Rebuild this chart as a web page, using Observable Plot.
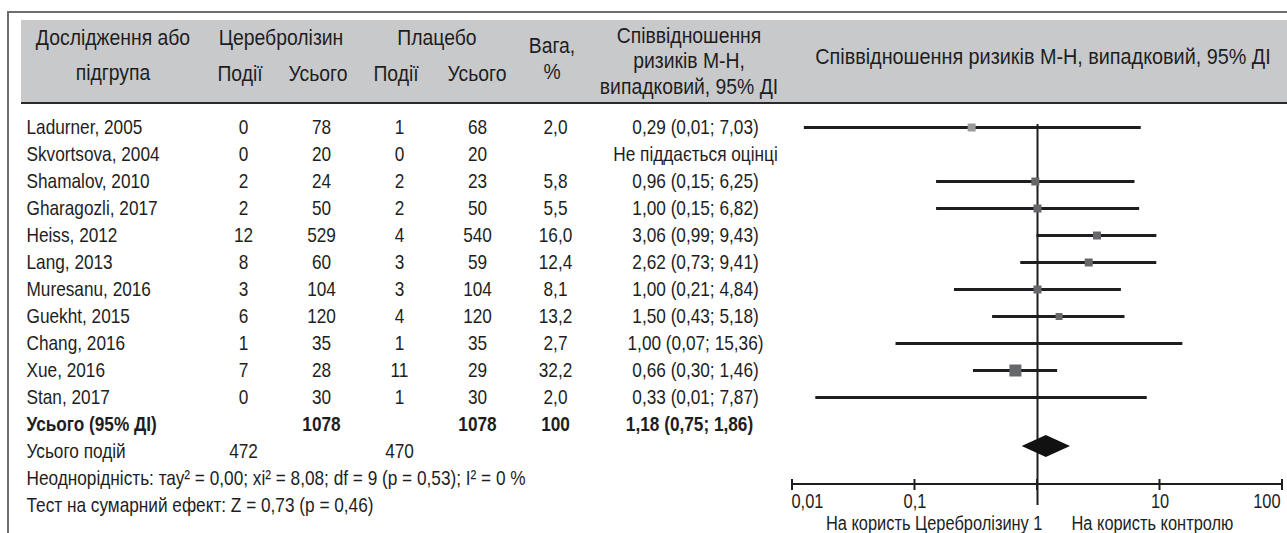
<!DOCTYPE html>
<html><head><meta charset="utf-8">
<script src="https://cdn.jsdelivr.net/npm/d3@7"></script>
<script src="https://cdn.jsdelivr.net/npm/@observablehq/plot@0.6"></script>
<style>
body{margin:0;background:#fff;}
#wrap{position:relative;width:1287px;height:533px;overflow:hidden;font-family:"Liberation Sans",Arial,sans-serif;color:#1e1e1e;}
#frameTop{position:absolute;left:7px;top:11px;width:1280px;height:2px;background:#6e6e6e}
#frameLeft{position:absolute;left:7px;top:11px;width:2px;height:522px;background:#6e6e6e}
#band{position:absolute;left:21px;top:20px;width:1266px;height:82px;background:#c8c9cb;border-bottom:2px solid #2a2a2a}
.h{position:absolute;transform:translate(-50%,-50%) scaleX(0.88);font-size:22px;white-space:nowrap;line-height:1}
.h.wide{transform:translate(-50%,-50%) scaleX(0.9)}
.p{position:absolute;top:103px}
</style></head>
<body>
<div id="wrap">
  <div id="frameTop"></div><div id="frameLeft"></div><div id="band"></div>
  <div id="hdr"></div>
  <div class="p" id="pA" style="left:0"></div>
  <div class="p" id="pB" style="left:200px"></div>
  <div class="p" id="pC" style="left:600px"></div>
  <div class="p" id="pD" style="left:790px"></div>
</div>
<script>
// ---------- data ----------
const studies = ["Ladurner, 2005","Skvortsova, 2004","Shamalov, 2010","Gharagozli, 2017","Heiss, 2012","Lang, 2013","Muresanu, 2016","Guekht, 2015","Chang, 2016","Xue, 2016","Stan, 2017"];
const cereEvents = [0,0,2,2,12,8,3,6,1,7,0];
const cereTotal  = [78,20,24,50,529,60,104,120,35,28,30];
const placEvents = [1,0,2,2,4,3,3,4,1,11,1];
const placTotal  = [68,20,23,50,540,59,104,120,35,29,30];
const weights    = ["2,0","","5,8","5,5","16,0","12,4","8,1","13,2","2,7","32,2","2,0"];
const rrLabels   = ["0,29 (0,01; 7,03)","Не піддається оцінці","0,96 (0,15; 6,25)","1,00 (0,15; 6,82)","3,06 (0,99; 9,43)","2,62 (0,73; 9,41)","1,00 (0,21; 4,84)","1,50 (0,43; 5,18)","1,00 (0,07; 15,36)","0,66 (0,30; 1,46)","0,33 (0,01; 7,87)"];
const rrEst  = [0.29,null,0.96,1.00,3.06,2.62,1.00,1.50,1.00,0.66,0.33];
const rrLow  = [0.0125,null,0.15,0.15,0.99,0.73,0.21,0.43,0.07,0.30,0.0155];
const rrHigh = [7.03,null,6.25,6.82,9.43,9.41,4.84,5.18,15.36,1.46,7.87];
const squareSide = [8,0,8,8,8,8,8,7,0,12,0];
const squareTone = ["#9a9a9a","","#66676b","#66676b","#66676b","#66676b","#66676b","#66676b","#66676b","#66676b","#66676b"];
const totalLabel = "Усього (95% ДІ)";
const totalCere = 1078, totalPlac = 1078, totalWeight = "100", totalRR = "1,18 (0,75; 1,86)";
const pooledEst = 1.18, pooledLow = 0.75, pooledHigh = 1.86;
const eventsLabel = "Усього подій";
const eventsCere = 472, eventsPlac = 470;
const heterogeneity = "Неоднорідність: тау² = 0,00; хі² = 8,08; df = 9 (p = 0,53); I² = 0 %";
const overallTest = "Тест на сумарний ефект: Z = 0,73 (p = 0,46)";
const axisTicks = [0.01, 0.1, 1, 10, 100];
const axisTickLabels = ["0,01","0,1","1","10","100"];
const favourLeft = "На користь Церебролізину 1";
const favourRight = "На користь контролю";
const colKeys = ["e1","n1","e2","n2","w"];

// ---------- header (HTML) ----------
const headers = [
  ["Дослідження або",113,38],["підгрупа",113,73],
  ["Церебролізин",281,38],["Події",240,74],["Усього",318,74],
  ["Плацебо",437,38],["Події",396,74],["Усього",477,74],
  ["Вага,",552,46],["%",552,72],
  ["Співвідношення",689,36],["ризиків М-Н,",689,61],["випадковий, 95% ДІ",689,87],
  ["Співвідношення ризиків М-Н, випадковий, 95% ДІ",1043,57,"wide"]
];
const hdr = document.getElementById("hdr");
for (const [t,x,y,cls] of headers) {
  const s = document.createElement("div");
  s.className = "h" + (cls ? " "+cls : ""); s.textContent = t; s.style.left = x+"px"; s.style.top = y+"px";
  hdr.appendChild(s);
}

// ---------- rows ----------
const rowKeys = [...studies, "total", "events", "het", "test"];
const H = 430;
const yScale = {type:"point", domain: rowKeys, range:[21, 404.6], padding:0, axis:null};
const FS = 21;
const font = '"Liberation Sans",Arial,sans-serif';
const style = {background:"transparent", overflow:"visible", color:"#1e1e1e"};
const SQUEEZE = 0.82;
function condense(svg) {
  svg.querySelectorAll("text").forEach(t => {
    const w = t.getComputedTextLength();
    if (w > 0) { t.setAttribute("textLength", (w*SQUEEZE).toFixed(2)); t.setAttribute("lengthAdjust","spacingAndGlyphs"); }
  });
}
function mount(id, svg) { document.getElementById(id).append(svg); condense(svg); }

const studyRows = studies.map((s,i)=>({key:s, label:s}));
const footRows = [{key:"events",label:eventsLabel},{key:"het",label:heterogeneity},{key:"test",label:overallTest}];

mount("pA", Plot.plot({
  width:200, height:H, marginLeft:26, marginRight:0, marginTop:0, marginBottom:0,
  y:yScale, style,
  marks:[
    Plot.text([...studyRows, ...footRows], {y:"key", text:"label", frameAnchor:"left", textAnchor:"start", fontSize:FS, fontFamily:font, fill:"#1e1e1e"}),
    Plot.text([{key:"total",label:totalLabel}], {y:"key", text:"label", frameAnchor:"left", textAnchor:"start", fontSize:FS, fontWeight:"bold", fontFamily:font, fill:"#1e1e1e"})
  ]
}));

const cells = [];
studies.forEach((s,i)=>{
  cells.push({key:s,col:"e1",v:String(cereEvents[i])});
  cells.push({key:s,col:"n1",v:String(cereTotal[i])});
  cells.push({key:s,col:"e2",v:String(placEvents[i])});
  cells.push({key:s,col:"n2",v:String(placTotal[i])});
  cells.push({key:s,col:"w",v:weights[i]});
});
cells.push({key:"events",col:"e1",v:String(eventsCere)});
cells.push({key:"events",col:"e2",v:String(eventsPlac)});
const boldCells = [
  {key:"total",col:"n1",v:String(totalCere)},
  {key:"total",col:"n2",v:String(totalPlac)},
  {key:"total",col:"w",v:totalWeight}
];
mount("pB", Plot.plot({
  width:400, height:H, marginLeft:0, marginRight:0, marginTop:0, marginBottom:0,
  x:{type:"point", domain:colKeys, range:[42,355], padding:0, axis:null},
  y:yScale, style,
  marks:[
    Plot.text(cells, {x:"col", y:"key", text:"v", fontSize:FS, fontFamily:font, fill:"#1e1e1e"}),
    Plot.text(boldCells, {x:"col", y:"key", text:"v", fontSize:FS, fontWeight:"bold", fontFamily:font, fill:"#1e1e1e"})
  ]
}));

mount("pC", Plot.plot({
  width:190, height:H, marginLeft:0, marginRight:0, marginTop:0, marginBottom:0,
  y:yScale, style,
  marks:[
    Plot.text(studies.map((s,i)=>({key:s,v:rrLabels[i]})), {y:"key", text:"v", frameAnchor:"middle", fontSize:FS, fontFamily:font, fill:"#1e1e1e"}),
    Plot.text([{key:"total",v:totalRR}], {y:"key", text:"v", frameAnchor:"middle", dx:-6, fontSize:FS, fontWeight:"bold", fontFamily:font, fill:"#1e1e1e"})
  ]
}));

// ---------- forest ----------
const forest = studies.map((s,i)=>({key:s, est:rrEst[i], lo:rrLow[i], hi:rrHigh[i], side:squareSide[i], tone:squareTone[i]})).filter(d=>d.est!=null);
const ticks = axisTicks.map((v,i)=>({v, label:axisTickLabels[i]}));

function axisAndDiamond(index, scales, values, dims) {
  const g = d3.create("svg:g");
  const x = scales.x, y = scales.y;
  const y0 = dims.height - dims.marginBottom;
  g.append("line").attr("x1", x(axisTicks[0])).attr("x2", x(axisTicks[axisTicks.length-1]))
    .attr("y1", y0).attr("y2", y0).attr("stroke","#1e1e1e").attr("stroke-width",2);
  for (const v of axisTicks) {
    g.append("line").attr("x1", x(v)).attr("x2", x(v)).attr("y1", y0-5).attr("y2", y0+6)
      .attr("stroke","#1e1e1e").attr("stroke-width",2);
  }
  const yc = y("events") - 5, hh = 11;
  g.append("path")
    .attr("d", `M${x(pooledLow)},${yc}L${x(pooledEst)},${yc-hh}L${x(pooledHigh)},${yc}L${x(pooledEst)},${yc+hh}Z`)
    .attr("fill","#111");
  return g.node();
}

const AFS = 20;
mount("pD", Plot.plot({
  width:497, height:H, marginLeft:2, marginRight:5, marginTop:0, marginBottom:H-381,
  x:{type:"log", domain:[0.01,100], axis:null},
  y:yScale, r:{type:"identity"}, style,
  marks:[
    Plot.ruleX([1], {x:d=>d, y1:()=>rowKeys[0], y2:()=>"test", insetTop:-3, stroke:"#1e1e1e", strokeWidth:2}),
    Plot.ruleY(forest, {y:"key", x1:"lo", x2:"hi", stroke:"#1e1e1e", strokeWidth:2.8}),
    Plot.dot(forest.filter(d=>d.side>0), {x:"est", y:"key", symbol:"square", r:d=>d.side/Math.sqrt(Math.PI), fill:"tone", stroke:null}),
    axisAndDiamond,
    Plot.text(ticks.filter(d=>d.v===0.01), {x:"v", text:"label", frameAnchor:"bottom", dy:23, textAnchor:"start", dx:-1, fontSize:AFS, fontFamily:font, fill:"#1e1e1e"}),
    Plot.text(ticks.filter(d=>d.v===0.1||d.v===10), {x:"v", text:"label", frameAnchor:"bottom", dy:23, fontSize:AFS, fontFamily:font, fill:"#1e1e1e"}),
    Plot.text(ticks.filter(d=>d.v===100), {x:"v", text:"label", frameAnchor:"bottom", dy:23, textAnchor:"end", dx:-2, fontSize:AFS, fontFamily:font, fill:"#1e1e1e"}),
    Plot.text([{v:1,t:favourLeft}], {x:"v", text:"t", frameAnchor:"bottom", dy:45, textAnchor:"end", dx:5, fontSize:AFS, fontFamily:font, fill:"#1e1e1e"}),
    Plot.text([{v:1,t:favourRight}], {x:"v", text:"t", frameAnchor:"bottom", dy:45, textAnchor:"start", dx:34, fontSize:AFS, fontFamily:font, fill:"#1e1e1e"})
  ]
}));
</script>
</body></html>
